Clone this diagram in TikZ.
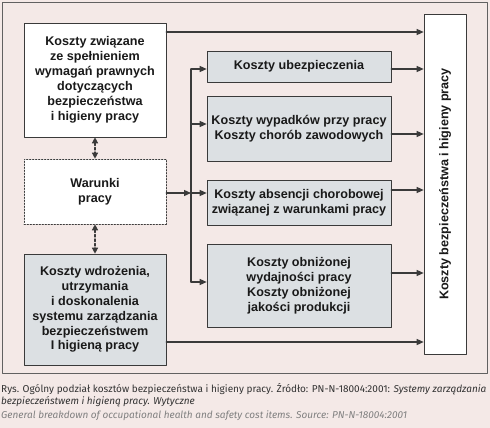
\documentclass[tikz,border=0pt]{standalone}
\usepackage{fontspec}
\setmainfont{Liberation Sans}
\newfontfamily\capfont{Fira Sans}
\usetikzlibrary{arrows.meta}
\definecolor{tlo}{HTML}{F4E9E7}
\definecolor{szary}{HTML}{DCE0E3}
\definecolor{ramka}{HTML}{3A3A3A}
\begin{document}
\begin{tikzpicture}[x=1pt, y=-1pt, line cap=round, line join=round,
    blok/.style={draw=ramka, line width=0.6pt, align=center, text=black!90,
                 font=\bfseries\fontsize{12.6}{14.9}\selectfont, inner sep=0pt},
    jasny/.style={blok, fill=white},
    ciemny/.style={blok, fill=szary},
    strz/.style={-{Triangle[length=7pt,width=6pt]}, line width=1.3pt, ramka},
    dwustrz/.style={{Triangle[length=6pt,width=6pt]}-{Triangle[length=6pt,width=6pt]},
                    line width=1.3pt, ramka, dash pattern=on 2.5pt off 2pt},
    podpis/.style={anchor=base west, inner sep=0pt, font=\capfont\fontsize{10}{12}\selectfont}]

  % tlo i ramka
  \fill[tlo] (0,0) rectangle (490,428);
  \draw[ramka!80, line width=0.9pt] (2,2) rectangle (487,373);

  % lewa kolumna
  \node[jasny, minimum width=142pt, minimum height=114pt] (wymagania) at (95,80)
    {Koszty związane\\ze spełnieniem\\wymagań prawnych\\dotyczących\\bezpieczeństwa\\i higieny pracy};
  \node[jasny, dashed, dash pattern=on 1.5pt off 1.5pt, minimum width=142pt, minimum height=65pt] (warunki) at (95,191.5)
    {Warunki\\pracy};
  \node[ciemny, minimum width=142pt, minimum height=111pt] (wdrozenie) at (95,309.5)
    {Koszty wdrożenia,\\utrzymania\\i doskonalenia\\systemu zarządzania\\bezpieczeństwem\\I higieną pracy};

  % srodkowa kolumna
  \node[ciemny, minimum width=184pt, minimum height=31pt] (ubezp) at (299,66.5)
    {Koszty ubezpieczenia};
  \node[ciemny, minimum width=184pt, minimum height=65pt] (wypadki) at (299,128.5)
    {Koszty wypadków przy pracy\\Koszty chorób zawodowych};
  \node[ciemny, minimum width=184pt, minimum height=45pt] (absencja) at (299,202.5)
    {Koszty absencji chorobowej\\związanej z warunkami pracy};
  \node[ciemny, minimum width=184pt, minimum height=83pt] (wydajnosc) at (299,285.5)
    {Koszty obniżonej\\wydajności pracy\\Koszty obniżonej\\jakości produkcji};

  % prawa kolumna
  \node[jasny, rotate=90, minimum width=340pt, minimum height=42pt] (suma) at (445,184)
    {Koszty bezpieczeństwa i higieny pracy};

  % szyna
  \coordinate (szynaG) at (191,69);
  \coordinate (szynaD) at (191,282);
  \draw[ramka, line width=1.3pt] (szynaG) -- (szynaD);

  % strzalki
  \draw[dwustrz] (wymagania.south) -- (warunki.north);
  \draw[dwustrz] (warunki.south) -- (wdrozenie.north);
  \draw[strz] (warunki.east |- 0,193) -- (szynaG |- 0,193);
  \draw[strz] (szynaG) -- (ubezp.west |- szynaG);
  \draw[strz] (szynaG |- 0,124) -- (wypadki.west |- 0,124);
  \draw[strz] (szynaG |- 0,193) -- (absencja.west |- 0,193);
  \draw[strz] (szynaD) -- (wydajnosc.west |- szynaD);

  \draw[strz] (wymagania.east |- 0,32) -- (suma.north |- 0,32);
  \draw[strz] (ubezp.east |- 0,69) -- (suma.north |- 0,69);
  \draw[strz] (wypadki.east |- 0,134) -- (suma.north |- 0,134);
  \draw[strz] (absencja.east |- 0,190) -- (suma.north |- 0,190);
  \draw[strz] (wydajnosc.east |- 0,273) -- (suma.north |- 0,273);
  \draw[strz] (wdrozenie.east |- 0,342) -- (suma.north |- 0,342);

  % podpis
  \node[podpis, text=black!80] (podpis1) at (1,392)
    {Rys. Ogólny podział kosztów bezpieczeństwa i higieny pracy. Źródło: PN-N-18004:2001: \textit{Systemy zarządzania}};
  \node[podpis, text=black!80] (podpis2) at (1,404)
    {\textit{bezpieczeństwem i higieną pracy. Wytyczne}};
  \node[podpis, text=black!50] (podpis3) at (1,418)
    {\itshape General breakdown of occupational health and safety cost items. Source: PN-N-18004:2001};
\end{tikzpicture}
\end{document}
